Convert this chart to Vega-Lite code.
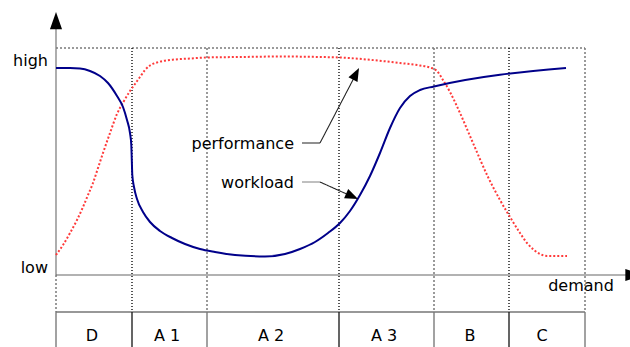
{
  "$schema": "https://vega.github.io/schema/vega-lite/v6.json",
  "width": 630,
  "height": 347,
  "padding": 0,
  "autosize": {"type": "none"},
  "background": "white",
  "view": {"stroke": null},
  "datasets": {
    "segs": [
      {"x": 56, "y": 48, "x2": 585, "y2": 48, "k": "dot-gray"},
      {"x": 56, "y": 275, "x2": 56, "y2": 312, "k": "dot-gray"},
      {"x": 132, "y": 48, "x2": 132, "y2": 312, "k": "dot-black"},
      {"x": 207, "y": 48, "x2": 207, "y2": 312, "k": "dot-gray"},
      {"x": 339, "y": 48, "x2": 339, "y2": 312, "k": "dot-black"},
      {"x": 434, "y": 48, "x2": 434, "y2": 312, "k": "dot-gray"},
      {"x": 509, "y": 48, "x2": 509, "y2": 312, "k": "dot-black"},
      {"x": 585, "y": 48, "x2": 585, "y2": 312, "k": "dot-gray"},
      {"x": 56, "y": 312, "x2": 585, "y2": 312, "k": "box-gray"},
      {"x": 56, "y": 312, "x2": 56, "y2": 347, "k": "box-gray"},
      {"x": 132, "y": 312, "x2": 132, "y2": 347, "k": "box-black"},
      {"x": 207, "y": 312, "x2": 207, "y2": 347, "k": "box-gray"},
      {"x": 339, "y": 312, "x2": 339, "y2": 347, "k": "box-black"},
      {"x": 434, "y": 312, "x2": 434, "y2": 347, "k": "box-gray"},
      {"x": 509, "y": 312, "x2": 509, "y2": 347, "k": "box-black"},
      {"x": 585, "y": 312, "x2": 585, "y2": 347, "k": "box-gray"},
      {"x": 56, "y": 275, "x2": 56, "y2": 26, "k": "axis-y"},
      {"x": 56, "y": 275, "x2": 626, "y2": 275, "k": "axis-x"},
      {"x": 302, "y": 143, "x2": 320, "y2": 143, "k": "lead"},
      {"x": 320, "y": 143, "x2": 355, "y2": 76, "k": "lead"},
      {"x": 302, "y": 182, "x2": 320, "y2": 182, "k": "lead-gray"},
      {"x": 320, "y": 182, "x2": 351, "y2": 196, "k": "lead"}
    ],
    "heads": [
      {"x": 56, "y": 20.7, "a": 0, "k": "axis"},
      {"x": 634, "y": 275, "a": 90, "k": "axis"},
      {"x": 356, "y": 73.8, "a": 27.5, "k": "note"},
      {"x": 352.1, "y": 196.3, "a": 114, "k": "note"}
    ],
    "curves": [
      {"s": "workload", "x": 56, "y": 68},
      {"s": "workload", "x": 70, "y": 68},
      {"s": "workload", "x": 80, "y": 68.5},
      {"s": "workload", "x": 90, "y": 71},
      {"s": "workload", "x": 100, "y": 76},
      {"s": "workload", "x": 108, "y": 83},
      {"s": "workload", "x": 117, "y": 96},
      {"s": "workload", "x": 123, "y": 107},
      {"s": "workload", "x": 127, "y": 120},
      {"s": "workload", "x": 130, "y": 133},
      {"s": "workload", "x": 131.3, "y": 145},
      {"s": "workload", "x": 131.8, "y": 160},
      {"s": "workload", "x": 132.3, "y": 175},
      {"s": "workload", "x": 134, "y": 187},
      {"s": "workload", "x": 137, "y": 199},
      {"s": "workload", "x": 143, "y": 212},
      {"s": "workload", "x": 150, "y": 222},
      {"s": "workload", "x": 160, "y": 231},
      {"s": "workload", "x": 172, "y": 238},
      {"s": "workload", "x": 185, "y": 244},
      {"s": "workload", "x": 200, "y": 249},
      {"s": "workload", "x": 215, "y": 252},
      {"s": "workload", "x": 235, "y": 255},
      {"s": "workload", "x": 265, "y": 256.5},
      {"s": "workload", "x": 285, "y": 254},
      {"s": "workload", "x": 300, "y": 249},
      {"s": "workload", "x": 315, "y": 242},
      {"s": "workload", "x": 328, "y": 233},
      {"s": "workload", "x": 340, "y": 223},
      {"s": "workload", "x": 350, "y": 211},
      {"s": "workload", "x": 360, "y": 195},
      {"s": "workload", "x": 370, "y": 176},
      {"s": "workload", "x": 380, "y": 153},
      {"s": "workload", "x": 390, "y": 128},
      {"s": "workload", "x": 400, "y": 108},
      {"s": "workload", "x": 410, "y": 96},
      {"s": "workload", "x": 420, "y": 90},
      {"s": "workload", "x": 434, "y": 86.5},
      {"s": "workload", "x": 566, "y": 68},
      {"s": "performance", "x": 56, "y": 255},
      {"s": "performance", "x": 63, "y": 245},
      {"s": "performance", "x": 70, "y": 233},
      {"s": "performance", "x": 77, "y": 220},
      {"s": "performance", "x": 83, "y": 207},
      {"s": "performance", "x": 88, "y": 195},
      {"s": "performance", "x": 93, "y": 183},
      {"s": "performance", "x": 98, "y": 168},
      {"s": "performance", "x": 103, "y": 153},
      {"s": "performance", "x": 110, "y": 133},
      {"s": "performance", "x": 117, "y": 114},
      {"s": "performance", "x": 124, "y": 101},
      {"s": "performance", "x": 130, "y": 91},
      {"s": "performance", "x": 135, "y": 84},
      {"s": "performance", "x": 140, "y": 77},
      {"s": "performance", "x": 145, "y": 70},
      {"s": "performance", "x": 150, "y": 65.5},
      {"s": "performance", "x": 157, "y": 62.5},
      {"s": "performance", "x": 163, "y": 61},
      {"s": "performance", "x": 175, "y": 59.5},
      {"s": "performance", "x": 190, "y": 58.5},
      {"s": "performance", "x": 207, "y": 57.5},
      {"s": "performance", "x": 240, "y": 57},
      {"s": "performance", "x": 280, "y": 56.5},
      {"s": "performance", "x": 320, "y": 57},
      {"s": "performance", "x": 340, "y": 57.5},
      {"s": "performance", "x": 367, "y": 59.5},
      {"s": "performance", "x": 400, "y": 63},
      {"s": "performance", "x": 420, "y": 65.5},
      {"s": "performance", "x": 430, "y": 67.5},
      {"s": "performance", "x": 437, "y": 71},
      {"s": "performance", "x": 443, "y": 80},
      {"s": "performance", "x": 450, "y": 92},
      {"s": "performance", "x": 460, "y": 113},
      {"s": "performance", "x": 473, "y": 143},
      {"s": "performance", "x": 488, "y": 177},
      {"s": "performance", "x": 500, "y": 200},
      {"s": "performance", "x": 510, "y": 217},
      {"s": "performance", "x": 520, "y": 233},
      {"s": "performance", "x": 527, "y": 243},
      {"s": "performance", "x": 534, "y": 250},
      {"s": "performance", "x": 540, "y": 254},
      {"s": "performance", "x": 547, "y": 256},
      {"s": "performance", "x": 567, "y": 256}
    ],
    "labels": [
      {"t": "high", "x": 48, "y": 66, "k": "right"},
      {"t": "low", "x": 48, "y": 273, "k": "right"},
      {"t": "performance", "x": 294, "y": 149, "k": "right"},
      {"t": "workload", "x": 294, "y": 188, "k": "right"},
      {"t": "demand", "x": 581, "y": 291, "k": "center"},
      {"t": "D", "x": 92, "y": 341, "k": "center"},
      {"t": "A 1", "x": 167, "y": 341, "k": "center"},
      {"t": "A 2", "x": 271, "y": 341, "k": "center"},
      {"t": "A 3", "x": 384, "y": 341, "k": "center"},
      {"t": "B", "x": 470, "y": 341, "k": "center"},
      {"t": "C", "x": 542, "y": 341, "k": "center"}
    ]
  },
  "encoding": {
    "x": {"field": "x", "type": "quantitative", "scale": {"domain": [0, 630], "nice": false, "zero": false}, "axis": null},
    "y": {"field": "y", "type": "quantitative", "scale": {"domain": [0, 347], "nice": false, "zero": false, "reverse": true}, "axis": null}
  },
  "layer": [
    {
      "data": {"name": "segs"},
      "mark": {"type": "rule"},
      "encoding": {
        "x2": {"field": "x2"},
        "y2": {"field": "y2"},
        "color": {"field": "k", "type": "nominal", "legend": null,
          "scale": {"domain": ["dot-gray", "dot-black", "box-gray", "box-black", "axis-y", "axis-x", "lead", "lead-gray"],
                    "range": ["#7a7a7a", "#111111", "#777777", "#111111", "#7a7a7a", "#666666", "#222222", "#808080"]}},
        "strokeDash": {"field": "k", "type": "nominal", "legend": null,
          "scale": {"domain": ["dot-gray", "dot-black", "box-gray", "box-black", "axis-y", "axis-x", "lead", "lead-gray"],
                    "range": [[2, 2], [1, 2], [1, 0], [1, 0], [1, 0], [1, 0], [1, 0], [1, 0]]}},
        "size": {"field": "k", "type": "nominal", "legend": null,
          "scale": {"domain": ["dot-gray", "dot-black", "box-gray", "box-black", "axis-y", "axis-x", "lead", "lead-gray"],
                    "range": [1.5, 1, 2, 1, 2.2, 1.6, 1, 2]}}
      }
    },
    {
      "data": {"name": "curves"},
      "transform": [{"filter": "datum.s === 'performance'"}],
      "mark": {"type": "line", "interpolate": "monotone", "color": "#ff3a3a", "strokeWidth": 2, "strokeDash": [2, 2]},
      "encoding": {}
    },
    {
      "data": {"name": "curves"},
      "transform": [{"filter": "datum.s === 'workload'"}],
      "mark": {"type": "line", "interpolate": "monotone", "color": "#00008a", "strokeWidth": 2},
      "encoding": {}
    },
    {
      "data": {"name": "heads"},
      "transform": [{"filter": "datum.k === 'axis'"}],
      "mark": {"type": "point", "filled": true, "fill": "black", "stroke": null, "opacity": 1, "fillOpacity": 1, "size": 300, "shape": "M0,-1L0.7,1L-0.7,1Z"},
      "encoding": {
        "angle": {"field": "a", "type": "quantitative", "scale": null}
      }
    },
    {
      "data": {"name": "heads"},
      "transform": [{"filter": "datum.k === 'note'"}],
      "mark": {"type": "point", "filled": true, "fill": "black", "stroke": null, "opacity": 1, "fillOpacity": 1, "size": 170, "shape": "M0,-1L0.78,1L-0.78,1Z"},
      "encoding": {
        "angle": {"field": "a", "type": "quantitative", "scale": null}
      }
    },
    {
      "data": {"name": "labels"},
      "transform": [{"filter": "datum.k === 'right'"}],
      "mark": {"type": "text", "align": "right", "baseline": "alphabetic", "font": "DejaVu Sans", "fontSize": 16, "color": "black"},
      "encoding": {"text": {"field": "t"}}
    },
    {
      "data": {"name": "labels"},
      "transform": [{"filter": "datum.k === 'center'"}],
      "mark": {"type": "text", "align": "center", "baseline": "alphabetic", "font": "DejaVu Sans", "fontSize": 16, "color": "black"},
      "encoding": {"text": {"field": "t"}}
    }
  ]
}
